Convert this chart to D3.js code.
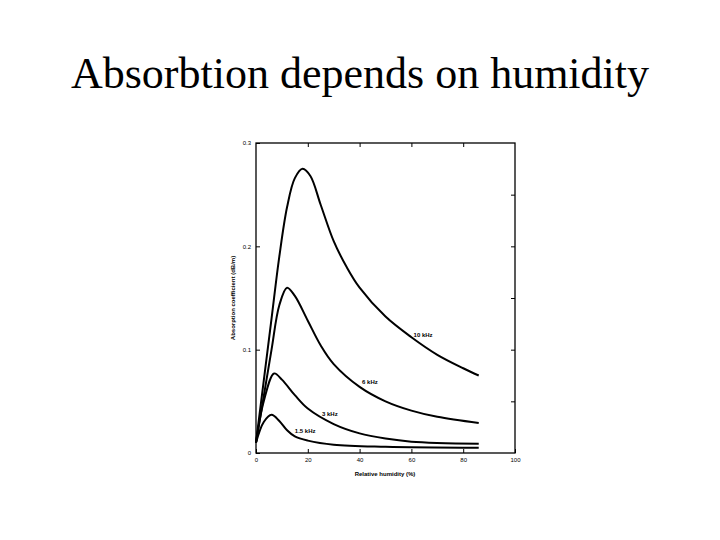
<!DOCTYPE html>
<html><head><meta charset="utf-8">
<script src="https://cdn.jsdelivr.net/npm/d3@7.9.0/dist/d3.min.js"></script>
<style>body{margin:0;background:#fff}</style></head>
<body><svg id="c" width="720" height="540"></svg>
<script>
// humidity (%) and absorption (dB/m)
const hum10 = [0, 3, 6, 9, 12, 15, 18, 21, 25, 30, 35, 40, 50, 60, 70, 80, 86];
const val10 = [0.01, 0.07, 0.13, 0.19, 0.238, 0.266, 0.275, 0.268, 0.24, 0.205, 0.18, 0.16, 0.132, 0.112, 0.095, 0.082, 0.075];
const hum6 = [0, 3, 6, 9, 12, 15, 20, 25, 30, 40, 50, 60, 70, 86];
const val6 = [0.01, 0.055, 0.1, 0.143, 0.16, 0.152, 0.128, 0.104, 0.086, 0.064, 0.05, 0.041, 0.035, 0.029];
const hum3 = [0, 3, 7, 10, 15, 20, 30, 40, 50, 60, 86];
const val3 = [0.01, 0.05, 0.077, 0.071, 0.056, 0.043, 0.028, 0.019, 0.014, 0.011, 0.009];
const hum15 = [0, 3, 6, 9, 12, 15, 20, 30, 50, 86];
const val15 = [0.01, 0.03, 0.037, 0.031, 0.022, 0.016, 0.012, 0.008, 0.006, 0.005];
const curveLabels = ["10 kHz", "6 kHz", "3 kHz", "1.5 kHz"];
const labelPos = [[64.5, 0.112], [44, 0.067], [28.5, 0.036], [19, 0.019]];
const xTicks = [0, 20, 40, 60, 80, 100];
const yTicks = [0, 0.1, 0.2, 0.3];

const svg = d3.select('#c');
svg.append('text').attr('x', 360).attr('y', 88).attr('text-anchor', 'middle')
  .attr('font-family', 'Liberation Serif').attr('font-size', 44).text('Absorbtion depends on humidity');

const x = d3.scaleLinear().domain([0, 100]).range([256, 515]);
const y = d3.scaleLinear().domain([0, 0.3]).range([453, 143]);

svg.append('rect').attr('x', 256).attr('y', 143).attr('width', 259).attr('height', 310)
  .attr('fill', 'none').attr('stroke', '#000').attr('stroke-width', 1.3);

const g = svg.append('g').attr('font-family', 'Liberation Sans').attr('font-size', 6).attr('font-weight', 'bold');
svg.append('g').attr('transform', 'translate(0,453)')
  .call(d3.axisBottom(x).tickValues(xTicks).tickSize(-4).tickPadding(5).tickFormat(d3.format('d')))
  .call(a => { a.select('.domain').remove(); a.selectAll('text').attr('font-size', 6); });
svg.append('g').attr('transform', 'translate(0,143)')
  .call(d3.axisTop(x).tickValues([20, 40, 60, 80]).tickSize(-4).tickFormat(''))
  .call(a => a.select('.domain').remove());
svg.append('g').attr('transform', 'translate(256,0)')
  .call(d3.axisLeft(y).tickValues(yTicks).tickSize(-4).tickPadding(5).tickFormat(d => d === 0 ? '0' : d3.format('.1f')(d)))
  .call(a => { a.select('.domain').remove(); a.selectAll('text').attr('font-size', 6); });
svg.append('g').attr('transform', 'translate(515,0)')
  .call(d3.axisRight(y).tickValues(d3.range(0.05, 0.3, 0.05)).tickSize(-4).tickFormat(''))
  .call(a => a.select('.domain').remove());

g.append('text').attr('x', 385).attr('y', 476).attr('text-anchor', 'middle').text('Relative humidity (%)');
g.append('text').attr('transform', 'translate(235,298) rotate(-90)').attr('text-anchor', 'middle').text('Absorption coefficient (dB/m)');

const line = d3.line().x(d => x(d[0])).y(d => y(d[1])).curve(d3.curveCatmullRom.alpha(0.5));
[[hum10, val10], [hum6, val6], [hum3, val3], [hum15, val15]].forEach(([h, v]) => {
  svg.append('path').attr('d', line(d3.zip(h, v))).attr('fill', 'none')
    .attr('stroke', '#000').attr('stroke-width', 2);
});
curveLabels.forEach((t, i) => {
  g.append('text').attr('x', x(labelPos[i][0])).attr('y', y(labelPos[i][1])).attr('text-anchor', 'middle').text(t);
});
</script></body></html>
